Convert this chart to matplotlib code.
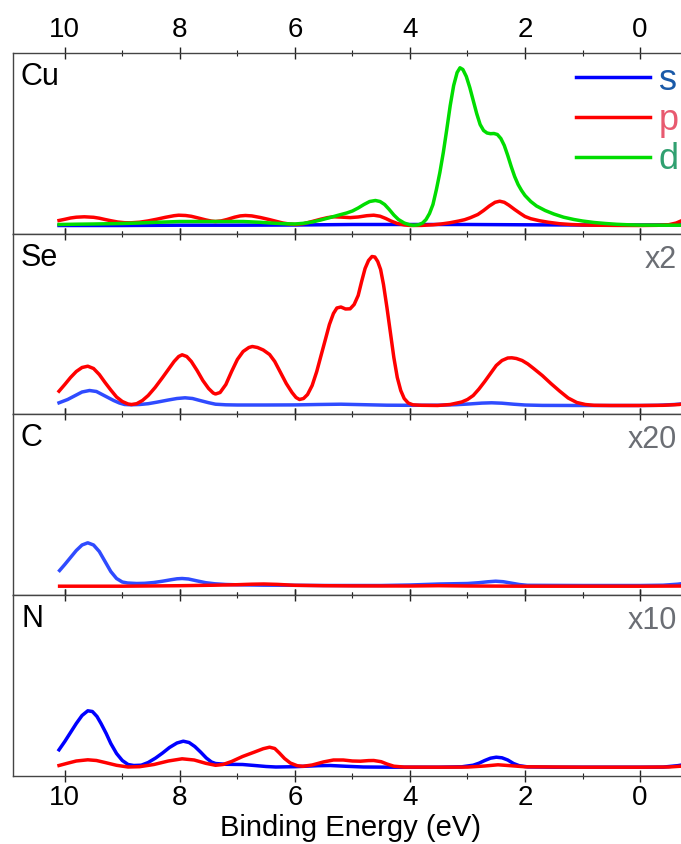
import matplotlib
matplotlib.use("Agg")
import matplotlib.pyplot as plt

plt.rcParams['font.family'] = ['Liberation Sans', 'DejaVu Sans']

# Cu
cu_s_x = [10.1, 9, 8, 7, 6, 5, 4, 3, 2, 1, 0, -0.9]
cu_s_y = [8, 8, 8.3, 8.3, 8.5, 9, 9, 9, 8.7, 8.5, 8.5, 8.7]
cu_p_x = [10.1, 10.0, 9.9, 9.8, 9.66, 9.5, 9.4, 9.3, 9.2, 9.08, 8.96, 8.85, 8.7, 8.55, 8.4,
          8.25, 8.1, 8.02, 7.9, 7.8, 7.7, 7.55, 7.45, 7.38, 7.28, 7.18, 7.05, 6.95, 6.86,
          6.75, 6.6, 6.45, 6.3, 6.21, 6.1, 5.98, 5.85, 5.7, 5.55, 5.43, 5.33, 5.2, 5.04,
          4.9, 4.75, 4.63, 4.52, 4.42, 4.33, 4.22, 4.1, 3.99, 3.8, 3.6, 3.46, 3.3, 3.15,
          3.05, 2.95, 2.82, 2.72, 2.62, 2.52, 2.44, 2.36, 2.28, 2.18, 2.08, 2.0, 1.9, 1.75,
          1.6, 1.4, 1.2, 1.0, 0.8, 0.4, 0, -0.3, -0.5, -0.63, -0.75, -0.9]
cu_p_y = [13, 14.2, 15.5, 16.3, 16.7, 16.2, 15.3, 14, 12.8, 11.5, 10.8, 10.7, 11.3, 12.6, 14.3,
          16.2, 17.8, 18.3, 18, 17.2, 15.8, 13.6, 12.4, 12, 12.6, 14, 16.3, 17.6, 18,
          17.6, 16, 14, 11.8, 10.5, 9.5, 9, 9.8, 12, 14.3, 15.9, 16.7, 16.4, 15.9,
          16.5, 17.8, 18.3, 17.3, 15, 12.5, 10, 8.6, 8, 8.1, 8.7, 9.5, 10.8, 12.5,
          13.8, 15.8, 19, 23, 27.5, 31.2, 32.3, 31.2, 28.3, 24, 20, 17, 14.8, 12.8,
          11.3, 9.8, 9, 8.5, 8.3, 8.1, 8, 8.2, 8.8, 10.5, 13.5, 18]
cu_d_x = [10.1, 9.8, 9.5, 9.2, 9, 8.7, 8.4, 8.0, 7.6, 7.2, 6.9, 6.6, 6.4, 6.2, 6.0, 5.85,
          5.7, 5.55, 5.4, 5.25, 5.1, 5.0, 4.9, 4.8, 4.7, 4.6, 4.52, 4.44, 4.36, 4.28, 4.2,
          4.1, 4.0, 3.93, 3.85, 3.78, 3.72, 3.66, 3.6, 3.54, 3.48, 3.42, 3.36, 3.3, 3.24,
          3.18, 3.13, 3.08, 3.02, 2.96, 2.9, 2.84, 2.78, 2.72, 2.66, 2.6, 2.54, 2.48, 2.42,
          2.36, 2.3, 2.24, 2.18, 2.12, 2.06, 2.0, 1.9, 1.8, 1.65, 1.5, 1.33, 1.15, 1.0, 0.8,
          0.6, 0.4, 0.2, 0, -0.4, -0.9]
cu_d_y = [9, 9.3, 9.5, 9.8, 10, 10.5, 11.2, 12, 12, 12, 12, 11.2, 10.4, 9.8, 9.5, 10.2,
          11.5, 13.5, 15.8, 18.2, 20.5, 22.5, 25.5, 29, 32, 33, 32, 29, 24, 18.5, 14,
          10.5, 8.6, 8.2, 8.7, 10.5, 14, 20, 29, 44, 61, 81, 104, 128, 148,
          161, 165.7, 164, 157, 146, 133, 120, 109, 103, 100.5, 99.8, 100, 99, 95,
          88, 78, 67, 57, 49, 43, 38, 32, 27.5, 23, 19.5, 16.3, 14, 12.5, 11,
          10, 9.2, 8.7, 8.4, 8.3, 8.3]

# Se
se_s_x = [10.1, 9.95, 9.8, 9.7, 9.57, 9.45, 9.35, 9.25, 9.15, 9.05, 8.96, 8.85, 8.7, 8.55,
          8.4, 8.2, 8.05, 7.91, 7.78, 7.65, 7.5, 7.38, 7.2, 7.0, 6.5, 6.0, 5.6, 5.2, 4.8,
          4.4, 4.0, 3.5, 3.2, 2.95, 2.75, 2.58, 2.4, 2.2, 2.0, 1.7, 1.0, 0, -0.3, -0.6, -0.9]
se_s_y = [11.7, 15, 19.5, 22.5, 24, 23, 20, 17, 14, 11.5, 10, 9.7, 10, 10.8,
          12.3, 14.5, 16, 16.7, 16, 14, 11.8, 10.3, 9.7, 9.5, 9.5, 9.6, 10, 10.3, 9.8,
          9.3, 9.2, 9.3, 9.8, 10.6, 11.4, 11.7, 11.3, 10.3, 9.5, 9.1, 9, 9, 9.2, 10, 11.5]
se_p_x = [10.1, 10.0, 9.9, 9.8, 9.7, 9.6, 9.5, 9.4, 9.3, 9.2, 9.1, 9.0, 8.9, 8.84, 8.75,
          8.65, 8.55, 8.43, 8.3, 8.2, 8.1, 8.02, 7.96, 7.88, 7.8, 7.7, 7.6, 7.5, 7.42, 7.38,
          7.3, 7.2, 7.1, 7.0, 6.9, 6.8, 6.74, 6.65, 6.55, 6.44, 6.35, 6.25, 6.15, 6.05,
          5.98, 5.92, 5.85, 5.78, 5.7, 5.62, 5.55, 5.47, 5.4, 5.33, 5.27, 5.2, 5.12, 5.04,
          4.97, 4.9, 4.84, 4.78, 4.72, 4.66, 4.61, 4.56, 4.51, 4.46, 4.4, 4.34, 4.28, 4.22,
          4.16, 4.1, 4.03, 3.95, 3.8, 3.52, 3.3, 3.1, 3.0, 2.9, 2.8, 2.7, 2.6, 2.5, 2.4,
          2.3, 2.23, 2.15, 2.05, 1.95, 1.85, 1.7, 1.55, 1.4, 1.25, 1.1, 0.95, 0.8, 0.5,
          0, -0.4, -0.68, -0.8, -0.9]
se_p_y = [23.3, 30, 37, 43, 47, 48.3, 46, 40, 32, 24.5, 17.5, 13, 10.5, 10, 10.8,
          14, 19, 27, 37, 45, 53, 58, 59.7, 58, 53, 44, 34, 26, 21.5, 20.5,
          22, 30, 43, 55, 63, 67, 68, 67, 64.5, 60, 53, 42, 31, 22,
          17, 15, 16, 20, 29, 43, 58, 75, 90, 101, 106.5, 107.5, 105.5, 105.7,
          110, 119, 133, 146, 154, 158, 157.5, 153, 145, 130, 107, 82, 57, 37,
          24, 16, 11.5, 9.7, 9.2, 9, 10, 12.5, 15, 19, 25.5, 33, 41, 49, 54,
          56.5, 56.7, 56, 54, 50.5, 46, 39, 31, 23.5, 16.5, 12, 10, 9.2, 9,
          9, 9.2, 10, 11.2, 12.5]

# C
c_s_x = [10.09, 10.0, 9.9, 9.8, 9.7, 9.6, 9.5, 9.4, 9.3, 9.2, 9.1, 9.0, 8.91, 8.75, 8.61,
         8.45, 8.3, 8.15, 8.05, 7.96, 7.85, 7.7, 7.55, 7.39, 7.2, 7.0, 6.54, 6.0, 5.5, 4.5,
         4.0, 3.49, 3.2, 3.0, 2.8, 2.65, 2.51, 2.38, 2.25, 2.1, 1.96, 1, 0, -0.4, -0.65, -0.9]
c_s_y = [24, 30, 37, 44, 49.5, 51.7, 49.5, 43, 33, 23, 16, 12.5, 11.5, 11, 11.2,
         12, 13.3, 14.8, 15.7, 16, 15.5, 13.6, 11.8, 10.7, 10, 9.7, 9.3, 9.2, 9, 9,
         9.5, 10.5, 10.8, 11, 11.8, 12.7, 13.3, 12.8, 11.5, 10, 9.2, 9, 9, 9.3, 10.3, 12]
c_p_x = [10.09, 9.0, 8.0, 7.4, 7.0, 6.75, 6.54, 6.3, 6.0, 5.5, 5, 4, 3.5, 3, 2, 1, 0, -0.9]
c_p_y = [8.3, 8.3, 8.8, 9.3, 9.8, 10.3, 10.5, 10.1, 9.2, 8.8, 8.6, 8.5, 8.8, 8.5, 8.3, 8.3,
         8.3, 8.5]

# N
n_s_x = [10.1, 10.0, 9.9, 9.8, 9.7, 9.6, 9.52, 9.44, 9.37, 9.28, 9.2, 9.1, 9.0, 8.9, 8.8,
         8.67, 8.55, 8.42, 8.3, 8.18, 8.05, 7.94, 7.84, 7.74, 7.64, 7.54, 7.45, 7.38, 7.2,
         6.91, 6.7, 6.5, 6.33, 6.0, 5.6, 5.39, 5.1, 4.81, 4.3, 3.5, 3.1, 2.9, 2.8, 2.7,
         2.6, 2.5, 2.4, 2.3, 2.2, 2.1, 1.95, 1.5, 0, -0.4, -0.65, -0.9]
n_s_y = [25.7, 34, 43, 52, 60, 64.7, 64, 59, 52, 42, 32, 22, 15, 11, 10,
         10.3, 13, 17.5, 22.5, 28, 32.5, 34.3, 33, 29, 23.5, 17.5, 13.5, 12, 11.2,
         11, 10, 9, 8.5, 8.8, 9.8, 10, 9.2, 8.5, 8.3, 8.3, 8.7, 10.3, 12.3, 15,
         17.3, 18.3, 17.7, 15.5, 12, 9.8, 8.6, 8.3, 8.3, 8.4, 9.8, 12]
n_p_x = [10.1, 9.95, 9.8, 9.6, 9.45, 9.3, 9.1, 8.9, 8.7, 8.45, 8.2, 7.96, 7.75, 7.55, 7.38,
         7.25, 7.1, 6.91, 6.7, 6.55, 6.44, 6.35, 6.27, 6.18, 6.08, 5.96, 5.86, 5.7, 5.5,
         5.33, 5.16, 5.0, 4.86, 4.72, 4.63, 4.5, 4.4, 4.28, 4.1, 3.5, 3.0, 2.7, 2.47, 2.25,
         2.0, 1, 0, -0.5, -0.9]
n_p_y = [10, 12.3, 14.5, 15.7, 15, 13, 10.2, 8.5, 8.8, 11, 14.5, 16.7, 15.5, 12.2, 10.2,
         11, 14, 19, 23.5, 26.8, 28.3, 27, 22.5, 17, 12.5, 9.8, 9.2, 10.5, 13.6,
         15.5, 15.5, 14.5, 14.3, 14.9, 15, 13.8, 11.5, 9.3, 8.4, 8.3, 8.4, 9.5, 10.7, 9.8,
         8.7, 8.3, 8.3, 8.5, 10]

elements = ["Cu", "Se", "C", "N"]
scales = ["", "x2", "x20", "x10"]
major_ticks = [10, 8, 6, 4, 2, 0]
minor_ticks = [9, 7, 5, 3, 1]

BLUE = "#0000ff"
LBLUE = "#2f4bff"
RED = "#ff0000"
GREEN = "#00dd00"

fig = plt.figure(figsize=(6.81, 8.44), dpi=100)
W, H = 681, 844
tops = [53, 234, 414, 595]
ph = 180.5
axes = []
for t in tops:
    ax = fig.add_axes([13 / W, 1 - (t + ph) / H, 1.01 - 13 / W, ph / H])
    axes.append(ax)

series = [
    [(cu_s_x, cu_s_y, BLUE, "s"), (cu_p_x, cu_p_y, RED, "p"), (cu_d_x, cu_d_y, GREEN, "d")],
    [(se_s_x, se_s_y, LBLUE, None), (se_p_x, se_p_y, RED, None)],
    [(c_s_x, c_s_y, LBLUE, None), (c_p_x, c_p_y, RED, None)],
    [(n_s_x, n_s_y, BLUE, None), (n_p_x, n_p_y, RED, None)],
]

for i, ax in enumerate(axes):
    for x, y, col, lab in series[i]:
        ax.plot(x, y, color=col, lw=2.5, label=lab)
    ax.set_xlim(10.9, -0.83)
    ax.set_ylim(0, 180.5)
    ax.set_yticks([])
    ax.set_xticks(major_ticks)
    ax.set_xticks(minor_ticks, minor=True)
    ax.tick_params(axis='x', which='major', direction='inout', length=8, width=1,
                   color='#222222', top=True, bottom=True, labelsize=20, pad=3,
                   labeltop=(i == 0), labelbottom=(i == 3))
    ax.tick_params(axis='x', which='minor', direction='inout', length=4.5, width=0.8,
                   color='#222222', top=True, bottom=True)
    for s in ax.spines.values():
        s.set_color('#444444')
        s.set_linewidth(1)
    ax.spines['right'].set_visible(False)
    ytop = 1 - (tops[i] + 9) / H
    fig.text(21 / W, ytop, elements[i], ha='left', va='top', fontsize=22, color='black')
    if scales[i]:
        fig.text(677 / W, 1 - (tops[i] + 11) / H, scales[i], ha='right', va='top',
                 fontsize=22, color='#6b6e74')

axes[0].legend(loc='upper right', bbox_to_anchor=(679 / W, 1 - 63 / H),
               bbox_transform=fig.transFigure, frameon=False, fontsize=26,
               handlelength=2.05, handletextpad=0.25, labelspacing=0.13,
               borderpad=0, borderaxespad=0,
               labelcolor=["#1a5aa8", "#e85a70", "#30a070"])

axes[3].set_xlabel("Binding Energy (eV)", fontsize=21, labelpad=2)

fig.savefig("out.png", dpi=100)
